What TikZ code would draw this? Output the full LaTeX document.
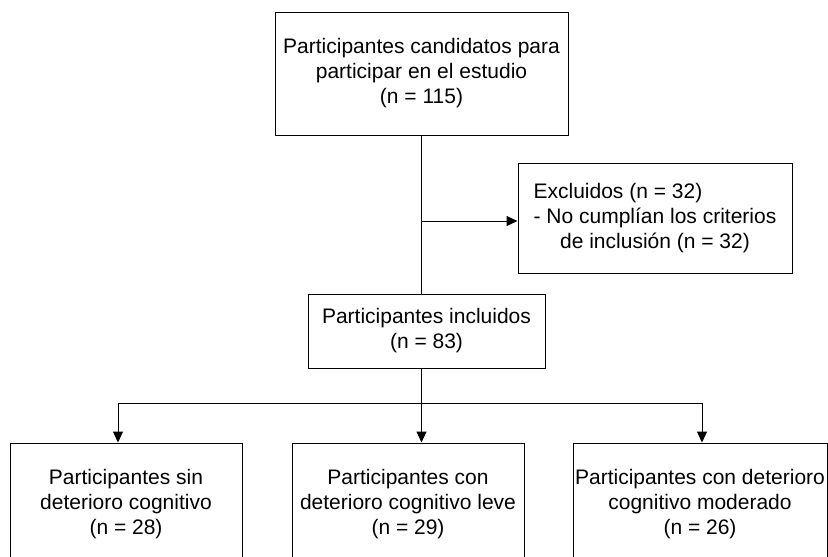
\documentclass[tikz,border=0pt]{standalone}
\usepackage{fontspec}
\setmainfont{Liberation Sans}
\usetikzlibrary{arrows.meta}
\begin{document}
\begin{tikzpicture}[x=1pt,y=-1pt,
  box/.style={draw=black,line width=1pt,inner xsep=0pt,inner ysep=0pt,align=center,
    font=\fontsize{21}{25}\selectfont},
  conn/.style={line width=1pt,draw=black},
  arr/.style={conn,-{Triangle[width=10pt,length=11pt]}}]
\useasboundingbox (0,0) rectangle (828,557);
\clip (0,0) rectangle (828,557);
\fill[white] (0,0) rectangle (828,557);
\node[box,minimum width=293pt,minimum height=123pt] (top) at (421.5,73.5)
  {Participantes candidatos para\\participar en el estudio\\(n = 115)};
\node[box,minimum width=274pt,minimum height=110pt] (excl) at (655,218)
  {\rlap{Excluidos (n = 32)}\phantom{- No cumplían los criterios}\\- No cumplían los criterios\\de inclusión (n = 32)};
\node[box,minimum width=237pt,minimum height=74pt] (inc) at (426.5,331)
  {Participantes incluidos\\(n = 83)};
\node[box,minimum width=232pt,minimum height=123pt] (left) at (126,504.5)
  {Participantes sin\\deterioro cognitivo\\(n = 28)};
\node[box,minimum width=232pt,minimum height=123pt] (mid) at (408,504.5)
  {Participantes con\\deterioro cognitivo leve\\(n = 29)};
\node[box,minimum width=254pt,minimum height=123pt] (right) at (700,504.5)
  {Participantes con deterioro\\cognitivo moderado\\(n = 26)};
\coordinate (j) at (421.5,221);
\coordinate (b) at (421.5,403);
\coordinate (bl) at (118,403);
\coordinate (br) at (702,403);
\draw[conn] (top.south) -- (top.south |- inc.north);
\draw[arr] (j) -- (j -| excl.west);
\draw[conn] (inc.south -| b) -- (b);
\draw[conn] (bl) -- (br);
\draw[arr] (bl) -- (bl |- left.north);
\draw[arr] (b) -- (b |- mid.north);
\draw[arr] (br) -- (br |- right.north);
\end{tikzpicture}
\end{document}
